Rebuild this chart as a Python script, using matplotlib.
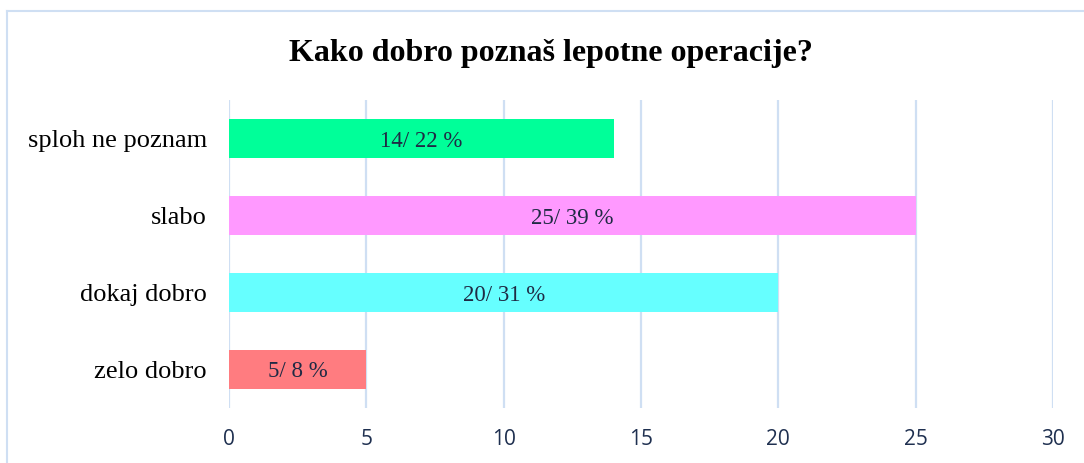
import matplotlib.pyplot as plt
from matplotlib.lines import Line2D

categories = ['sploh ne poznam', 'slabo', 'dokaj dobro', 'zelo dobro']
counts = [14, 25, 20, 5]
percents = [22, 39, 31, 8]
colors = ['#00FF99', '#FF99FF', '#66FFFF', '#FF7C80']
xticks = [0, 5, 10, 15, 20, 25, 30]

fig = plt.figure(figsize=(10.84, 4.63), dpi=100)
ax = fig.add_axes([0.2113, 0.1188, 0.7601, 0.6652])

ypos = list(range(len(categories)))
ax.barh(ypos, counts, height=0.5, color=colors, zorder=3)
for y, c, p in zip(ypos, counts, percents):
  ax.text(c / 2, y, f'{c}/ {p} %', ha='center', va='center_baseline', fontsize=16.5,
          family='Liberation Serif', color='#1F2A44', zorder=4)

ax.set_ylim(len(categories) - 0.5, -0.5)
ax.set_xlim(0, 30)
ax.set_xticks(xticks)
ax.set_xticklabels([str(t) for t in xticks], family='Open Sans', fontsize=15, color='#1F3050')
ax.set_yticks(ypos)
ax.set_yticklabels(categories, family='Liberation Serif', fontsize=19, color='black')
ax.tick_params(axis='both', length=0)
ax.tick_params(axis='x', pad=15)
ax.tick_params(axis='y', pad=16)
ax.grid(axis='x', color='#CFDFF3', linewidth=1.6, zorder=0)
ax.set_axisbelow(True)
for s in ax.spines.values():
  s.set_visible(False)

fig.text(0.508, 0.885, 'Kako dobro poznaš lepotne operacije?', ha='center', va='center',
         fontsize=23, fontweight='bold', family='Liberation Serif')

fig.add_artist(Line2D([0.0065, 1], [0.976, 0.976], color='#CFDFF3', linewidth=1.5))
fig.add_artist(Line2D([0.0065, 0.0065], [0, 0.976], color='#CFDFF3', linewidth=1.5))

fig.savefig('out.png', dpi=100)
